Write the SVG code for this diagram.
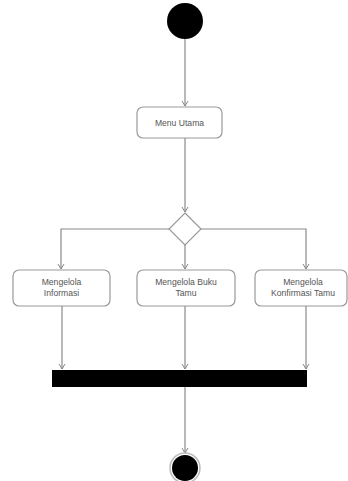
<svg xmlns="http://www.w3.org/2000/svg" width="348" height="481" viewBox="0 0 348 481">
<defs>
<marker id="arr" markerWidth="8" markerHeight="8" refX="6" refY="4" orient="auto" markerUnits="userSpaceOnUse">
<path d="M1,1 L6,4 L1,7" fill="none" stroke="#888" stroke-width="1"/>
</marker>
</defs>
<style>
.box{fill:#fff;stroke:#999;stroke-width:1.2}
.ln{fill:none;stroke:#8a8a8a;stroke-width:1.2}
.t{font-family:"Liberation Sans",Arial,sans-serif;font-size:8.6px;fill:#555;text-anchor:middle}
</style>
<rect width="348" height="481" fill="#fff"/>
<g id="connectors">
<path class="ln" d="M185,39 V106" marker-end="url(#arr)"/>
<path class="ln" d="M185,138 V212" marker-end="url(#arr)"/>
<path class="ln" d="M169,229 H61 V269" marker-end="url(#arr)"/>
<path class="ln" d="M185,245 V269" marker-end="url(#arr)"/>
<path class="ln" d="M201,229 H306 V269" marker-end="url(#arr)"/>
<path class="ln" d="M62,306 V369" marker-end="url(#arr)"/>
<path class="ln" d="M185,306 V369" marker-end="url(#arr)"/>
<path class="ln" d="M306,306 V369" marker-end="url(#arr)"/>
<path class="ln" d="M185,387 V453" marker-end="url(#arr)"/>
</g>
<g id="start"><circle cx="185" cy="21" r="18" fill="#000"/></g>
<g id="menu-utama">
<rect class="box" x="137" y="107" width="85" height="31" rx="6"/>
<text class="t" x="179.5" y="125.5">Menu Utama</text>
</g>
<g id="decision"><path d="M185,213 L201,229 L185,245 L169,229 Z" fill="#fff" stroke="#999" stroke-width="1.2"/></g>
<g id="informasi">
<rect class="box" x="13" y="270" width="97" height="36" rx="6"/>
<text class="t" x="61.5" y="285">Mengelola</text>
<text class="t" x="61.5" y="296">Informasi</text>
</g>
<g id="buku-tamu">
<rect class="box" x="137" y="270" width="98" height="36" rx="6"/>
<text class="t" x="186" y="285">Mengelola Buku</text>
<text class="t" x="186" y="296">Tamu</text>
</g>
<g id="konfirmasi-tamu">
<rect class="box" x="255" y="270" width="92" height="36" rx="6"/>
<text class="t" x="303" y="285">Mengelola</text>
<text class="t" x="303" y="296">Konfirmasi Tamu</text>
</g>
<g id="join"><rect x="52" y="370" width="255" height="17" fill="#000"/></g>
<g id="end">
<circle cx="185" cy="468" r="15" fill="none" stroke="#bbb" stroke-width="1.5"/>
<circle cx="185" cy="468" r="13" fill="#000"/>
</g>
</svg>
